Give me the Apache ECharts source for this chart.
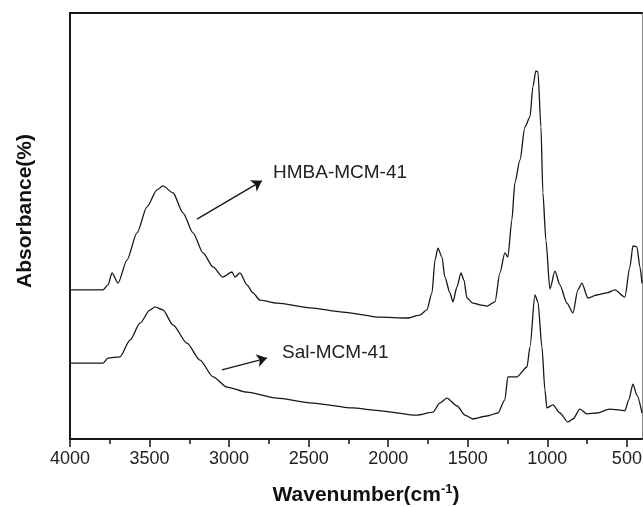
<!DOCTYPE html>
<html>
<head>
<meta charset="utf-8">
<script src="https://cdn.jsdelivr.net/npm/echarts@6/dist/echarts.min.js"></script>
<style>
  html, body { margin: 0; padding: 0; background: #fff; }
  #main { width: 643px; height: 507px; }
</style>
</head>
<body>
<div id="main"></div>
<script>
// wavenumber (cm-1) / absorbance (arbitrary, offset)
const hmbaWave = [4000,3793,3761,3736,3698,3642,3579,3516,3453,3416,3353,3290,3227,3164,3101,3039,2982,2963,2932,2888,2850,2806,2699,2492,2285,2052,1882,1801,1757,1725,1706,1688,1662,1644,1612,1593,1568,1543,1524,1505,1468,1424,1380,1329,1298,1267,1248,1223,1204,1172,1141,1109,1091,1072,1059,1040,1028,1009,984,952,921,877,839,808,783,745,689,626,575,513,481,462,437,418,405];
const hmbaAbs = [35.0,35.0,36.2,39.0,36.6,42.0,48.4,54.5,58.5,59.4,57.8,53.1,48.4,43.7,40.4,38.0,39.2,38.0,39.0,36.2,34.3,32.6,31.9,30.8,29.8,28.6,28.4,29.1,30.3,34.3,42.0,44.8,42.7,38.0,34.3,32.2,35.7,39.0,37.3,33.1,31.9,31.5,31.2,32.2,39.0,43.7,42.7,51.4,60.1,65.5,73.2,75.6,82.6,86.4,86.2,73.2,57.8,46.7,35.2,39.4,36.2,31.9,29.6,35.0,36.6,33.1,33.8,34.3,35.0,33.3,40.4,45.3,45.1,40.4,36.5];

const salWave = [4000,3793,3761,3686,3623,3560,3497,3466,3416,3353,3265,3183,3101,3013,2888,2699,2492,2222,2096,1820,1719,1675,1631,1568,1518,1468,1380,1311,1267,1248,1191,1128,1109,1078,1059,1034,1015,1003,965,921,871,839,795,751,689,607,544,513,488,462,437,405];
const salAbs = [17.8,17.8,19.0,19.3,23.2,27.2,30.3,31.0,30.3,26.8,22.5,18.5,14.6,12.2,11.0,9.6,8.5,7.3,6.8,5.6,6.3,8.5,9.6,7.8,5.6,4.7,5.4,6.1,9.2,14.6,14.6,16.9,21.6,33.8,32.2,21.6,11.5,7.3,8.0,6.1,4.0,4.7,7.0,5.9,6.1,7.0,6.8,6.6,9.2,12.9,10.3,6.1];

const majorTicks = [4000,3500,3000,2500,2000,1500,1000,500];
const minorTicks = [3750,3250,2750,2250,1750,1250,750];

// annotation arrows [from, to] in data coords
const hmbaArrow = [[3202, 51.6], [2794, 60.6]];
const salArrow = [[3045, 16.2], [2762, 19.0]];

const FONT = 'Liberation Sans, Arial, Helvetica, sans-serif';
const ink = '#161616';

const zip = (a, b) => a.map((v, i) => [v, b[i]]);

const arrowLine = (pts) => ({
  silent: true,
  symbol: ['none', 'arrow'],
  symbolSize: 10,
  label: { show: false },
  lineStyle: { color: ink, width: 1.3, type: 'solid' },
  data: [[{ coord: pts[0] }, { coord: pts[1] }]]
});

let myChart = echarts.init(document.getElementById('main'), null, { renderer: 'canvas' });

const gridBox = { left: 70, right: 1, top: 13, bottom: 68, containLabel: false, outerBoundsMode: 'none' };

let option = {
  animation: false,
  backgroundColor: '#fff',
  grid: [ Object.assign({}, gridBox), Object.assign({}, gridBox) ],
  xAxis: [
    {
      type: 'value', gridIndex: 0, inverse: true, min: 405, max: 4000, position: 'bottom',
      axisLine: { show: true, onZero: false, lineStyle: { color: ink, width: 2 } },
      axisTick: { show: true, customValues: majorTicks, length: 8, lineStyle: { color: ink, width: 1.5 } },
      axisLabel: { show: true, customValues: majorTicks, formatter: (v) => String(v), fontSize: 18, color: '#222', margin: 11, fontFamily: FONT },
      splitLine: { show: false },
      name: '{b|Wavenumber(cm}{s|-1}{b|)}',
      nameLocation: 'middle',
      nameGap: 44,
      nameTextStyle: {
        padding: [0, 0, 0, 20],
        rich: {
          b: { fontSize: 21, fontWeight: 'bold', fontFamily: FONT, color: '#111', lineHeight: 24 },
          s: { fontSize: 13, fontWeight: 'bold', fontFamily: FONT, color: '#111', lineHeight: 24, padding: [0, 0, 12, 0] }
        }
      }
    },
    {
      type: 'value', gridIndex: 0, inverse: true, min: 405, max: 4000, position: 'top',
      axisLine: { show: true, onZero: false, lineStyle: { color: ink, width: 2 } },
      axisTick: { show: false }, axisLabel: { show: false }, splitLine: { show: false }
    },
    {
      type: 'value', gridIndex: 1, inverse: true, min: 405, max: 4000, position: 'bottom',
      axisLine: { show: false, onZero: false },
      axisTick: { show: true, customValues: minorTicks, length: 5, lineStyle: { color: ink, width: 1.5 } },
      axisLabel: { show: false }, splitLine: { show: false }
    }
  ],
  yAxis: [
    {
      type: 'value', gridIndex: 0, min: 0, max: 100, position: 'left',
      axisLine: { show: true, onZero: false, lineStyle: { color: ink, width: 2 } },
      axisTick: { show: false }, axisLabel: { show: false }, splitLine: { show: false },
      name: 'Absorbance(%)',
      nameLocation: 'middle',
      nameGap: 34,
      nameTextStyle: { fontSize: 21, fontWeight: 'bold', fontFamily: FONT, color: '#111', padding: [0, 0, 0, 30] }
    },
    {
      type: 'value', gridIndex: 0, min: 0, max: 100, position: 'right',
      axisLine: { show: true, onZero: false, lineStyle: { color: '#8a8a8a', width: 1 } },
      axisTick: { show: false }, axisLabel: { show: false }, splitLine: { show: false }
    },
    {
      type: 'value', gridIndex: 1, min: 0, max: 100, show: false
    }
  ],
  graphic: [
    { type: 'text', x: 273, y: 173, style: { text: 'HMBA-MCM-41', fontSize: 19, fontFamily: FONT, fill: '#222', verticalAlign: 'middle' } },
    { type: 'text', x: 282, y: 353, style: { text: 'Sal-MCM-41', fontSize: 19, fontFamily: FONT, fill: '#222', verticalAlign: 'middle' } }
  ],
  series: [
    {
      name: 'HMBA-MCM-41', type: 'line', xAxisIndex: 0, yAxisIndex: 0,
      showSymbol: false, smooth: 0.25, smoothMonotone: 'x',
      lineStyle: { color: ink, width: 1.3 },
      data: zip(hmbaWave, hmbaAbs),
      markLine: arrowLine(hmbaArrow)
    },
    {
      name: 'Sal-MCM-41', type: 'line', xAxisIndex: 0, yAxisIndex: 0,
      showSymbol: false, smooth: 0.25, smoothMonotone: 'x',
      lineStyle: { color: ink, width: 1.3 },
      data: zip(salWave, salAbs),
      markLine: arrowLine(salArrow)
    }
  ]
};

myChart.setOption(option);
window.onresize = function () {
  myChart.resize()
}
</script>
</body>
</html>
